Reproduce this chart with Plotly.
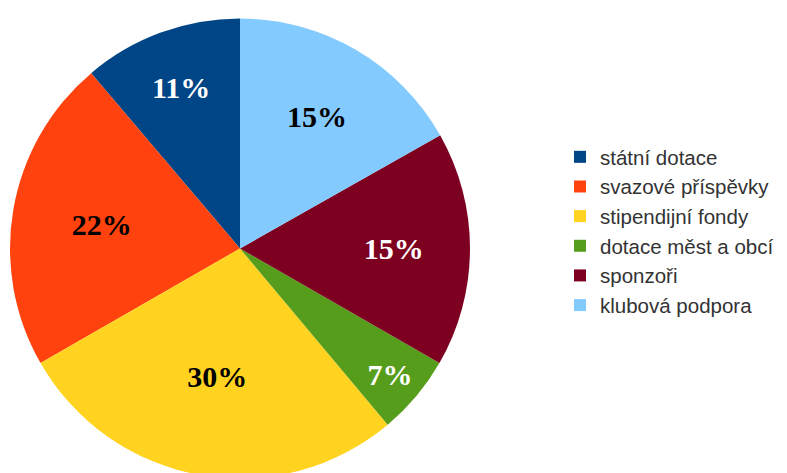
import plotly.graph_objects as go

categories = ["státní dotace", "svazové příspěvky", "stipendijní fondy",
              "dotace měst a obcí", "sponzoři", "klubová podpora"]
# slice sizes as measured from the wedge angles in the picture
slice_values = [11.2, 22.1, 27.8, 5.6, 16.5, 16.8]
# percentages printed on the slices
slice_labels = ["11%", "22%", "30%", "7%", "15%", "15%"]
colors = ["#004586", "#ff420e", "#ffd320", "#579d1c", "#7e0021", "#83caff"]
text_colors = ["white", "black", "black", "white", "white", "black"]

W, H = 787, 473
# first slice starts at 12 o'clock and the slices run counterclockwise
start_rot = -360.0 * slice_values[0] / sum(slice_values)

fig = go.Figure(go.Pie(
    labels=categories,
    values=slice_values,
    text=slice_labels,
    sort=False,
    direction="counterclockwise",
    rotation=start_rot,
    marker=dict(colors=colors, line=dict(width=0)),
    texttemplate="%{text}",
    textposition="inside",
    insidetextorientation="horizontal",
    insidetextfont=dict(family="Liberation Serif", size=30, color=text_colors,
                        weight="bold"),
    hoverinfo="label+text",
    domain=dict(x=[2 / W, 462 / W], y=[0, 1 - 8 / H]),
))

fig.update_layout(
    width=W, height=H,
    margin=dict(l=0, r=0, t=0, b=0),
    paper_bgcolor="white",
    showlegend=True,
    legend=dict(
        x=552 / W, y=1 - 129 / H, xanchor="left", yanchor="top",
        font=dict(family="Liberation Sans", size=20.5, color="#333333"),
        itemwidth=30,
        tracegroupgap=0,
    ),
    uniformtext=dict(minsize=30, mode="show"),
)

fig.write_html("out.html")
